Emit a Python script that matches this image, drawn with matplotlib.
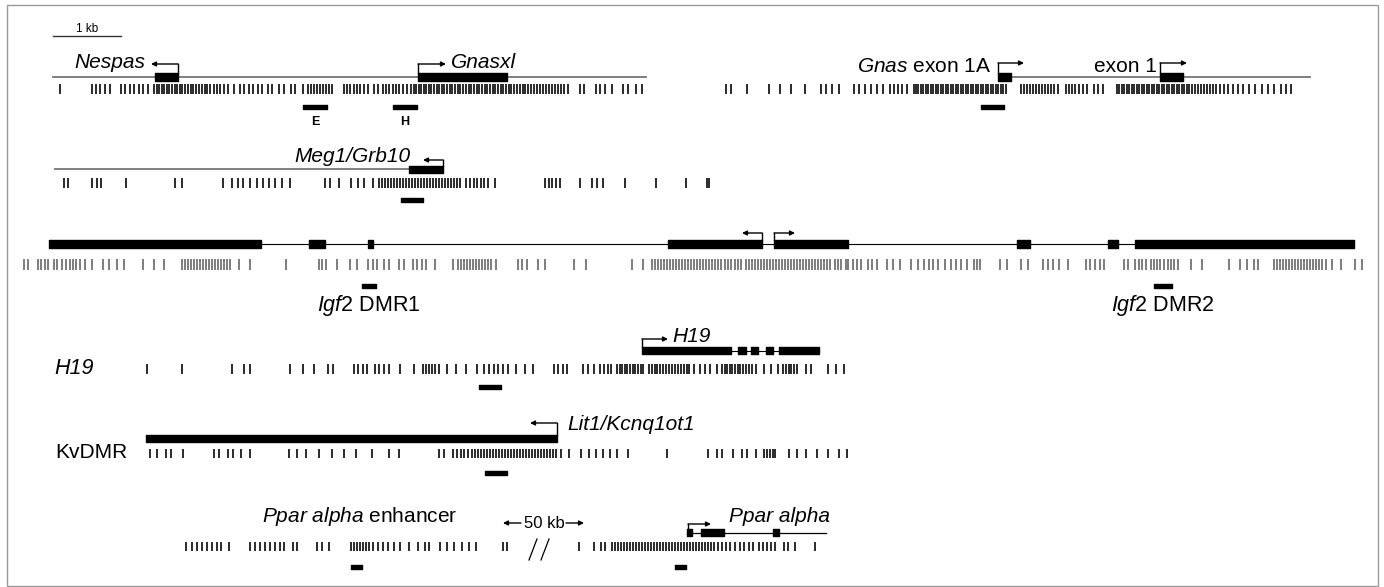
import matplotlib.pyplot as plt
from matplotlib.patches import Rectangle

plt.rcParams['font.family'] = ['Liberation Sans', 'DejaVu Sans']
plt.rcParams['mathtext.fontset'] = 'custom'
plt.rcParams['mathtext.it'] = 'Liberation Sans:italic'
plt.rcParams['mathtext.rm'] = 'Liberation Sans'

# CpG site positions along each map (diagram units)
nespas_cpg = [60, 92, 96, 100, 105, 110, 121, 125, 130, 134, 139, 143, 148,
              154, 157, 159, 162, 164, 167, 169, 172, 175, 177, 180, 182, 185, 188, 191, 193, 196, 199,
              202, 205, 207, 210, 214, 217, 220, 224, 228,
              234, 240, 244, 249, 253, 258, 262, 268, 272, 279, 284, 291, 295, 303,
              308, 311, 314, 317, 320, 323, 326, 329, 332,
              344, 347, 350, 354, 357, 360, 364, 368,
              374, 378, 383, 386, 389, 393, 396, 399, 403, 407, 411,
              414, 416, 419, 421, 424, 426, 429, 431, 434, 437, 439, 442, 444, 447, 450, 452, 455, 458,
              460, 463, 466, 469, 471, 474, 477, 479, 482, 485, 487, 490, 493, 495, 498, 501, 503, 506,
              509, 511, 514, 517, 520, 523, 525, 528, 531, 534, 537, 540, 543, 546, 549, 552, 555, 558,
              561, 564, 568, 580, 584, 596, 600, 605, 612, 623, 628, 636, 642]
gnas_cpg = [726, 731, 747, 769, 780, 791, 805, 821, 826, 832, 839, 854, 859, 865, 871, 877, 883,
            890, 894, 898, 902, 907, 914, 916, 918, 921, 923, 926, 928, 931, 933, 936, 938, 941, 943,
            946, 948, 951, 953, 956, 958, 961, 963, 966, 968, 971, 973, 976, 978, 981, 983, 986, 988,
            991, 993, 996, 998, 1001, 1003, 1006,
            1021, 1024, 1027, 1030, 1033, 1036, 1039, 1042, 1045, 1048, 1051, 1054, 1058,
            1066, 1069, 1072, 1075, 1079, 1083, 1087, 1094, 1098, 1103,
            1117, 1119, 1122, 1124, 1127, 1129, 1132, 1134, 1137, 1139, 1142, 1144, 1147, 1149, 1152,
            1154, 1157, 1159, 1162, 1164, 1167, 1169, 1172, 1174, 1177, 1179, 1182, 1184, 1187, 1189,
            1192, 1195, 1198, 1201, 1204, 1207, 1210, 1213, 1216, 1220, 1224, 1228,
            1233, 1238, 1243, 1249, 1255, 1262, 1268, 1274, 1281, 1286, 1291]
meg1_cpg = [64, 68, 92, 97, 101, 126, 175, 182, 223, 232, 238, 243, 250, 257, 263, 269, 275, 282, 290,
            325, 330, 339, 351, 358, 364, 373,
            379, 382, 385, 388, 391, 394, 397, 400, 403, 406, 409, 412, 415, 418, 421, 424, 427, 430,
            433, 436, 439, 442, 445, 448, 451, 454, 457, 460,
            466, 470, 474, 477, 481, 484, 488, 495,
            545, 549, 552, 556, 560, 580, 592, 597, 603, 625, 656, 686, 707, 709]
igf2_cpg = [24, 28, 38, 41, 45, 48, 54, 57, 62, 66, 70, 73, 76, 80, 85, 92, 103, 109, 117, 124, 143, 154, 164,
            182, 185, 188, 191, 194, 197, 200, 203, 206, 209, 212, 215, 218, 221, 224, 227, 230,
            239, 250, 286, 319, 322, 326, 337, 350, 357, 368, 373, 377, 384,
            389, 399, 404, 413, 417, 422, 426, 435, 453,
            458, 461, 464, 467, 470, 473, 476, 479, 482, 485, 488, 491, 496,
            518, 522, 527, 538, 545, 574, 586, 632, 643,
            652, 655, 658, 661, 664, 667, 670, 673, 676, 679, 682, 685, 688, 691, 694, 697, 700, 703,
            706, 709, 712, 715, 718, 721,
            725, 728, 731, 735, 738, 741, 746, 749, 752,
            755, 758, 761, 764, 767, 770, 773, 776, 779, 782, 785, 788, 791, 794, 797, 800, 803, 806,
            809, 812, 815, 818, 821, 824, 827, 830,
            835, 838, 841, 846, 848,
            853, 857, 861, 868, 872, 877, 887, 893, 900, 911, 918, 924, 929, 933, 938, 945, 951, 956,
            961, 967, 974, 977, 980, 1000, 1007, 1021, 1028, 1043, 1048, 1053, 1059, 1068, 1086, 1090,
            1095, 1100, 1104, 1124, 1128, 1135, 1139, 1142, 1146, 1151, 1154, 1157, 1160, 1164,
            1168, 1171, 1174, 1178, 1191, 1202, 1229, 1240, 1247, 1254, 1258,
            1274, 1277, 1280, 1283, 1286, 1289, 1292, 1295, 1298, 1301, 1304, 1307, 1310,
            1313, 1316, 1319, 1322, 1326, 1332, 1341, 1355, 1362]
h19_cpg = [147, 182, 232, 244, 250, 290, 303, 314, 328, 333, 354, 358, 363, 367, 375, 379, 384, 389,
           400, 414, 423, 426, 429, 432, 435, 439, 447, 456, 466, 477, 484, 489, 494, 498, 503, 508,
           516, 525, 533, 554, 558, 563, 567, 583, 588, 594, 600, 604, 608, 611,
           617, 620, 622, 625, 627, 630, 633, 635, 638, 641, 643, 649, 652, 655, 657, 660, 663, 666,
           669, 672, 675, 678, 681, 684, 687, 689, 694, 700, 705, 710, 717, 722, 725, 727, 730, 732,
           735, 738, 740, 743, 746, 749, 752, 756, 764, 771, 778, 783, 786, 789, 791, 794, 797, 806,
           811, 828, 836, 844]
kv_cpg = [150, 157, 166, 171, 183, 214, 219, 228, 233, 241, 250, 289, 297, 306, 319, 332, 344, 356,
          372, 389, 399, 439, 444,
          453, 457, 461, 464, 468, 472, 475, 478, 481, 484, 487, 490, 493, 496, 499, 502, 505, 508,
          511, 514, 517, 520, 523, 526, 529, 532, 535, 538, 541, 544, 547, 550, 553, 556,
          561, 569, 581, 589, 596, 603, 610, 617, 628, 667, 708, 717, 722, 733, 742, 747, 756, 764,
          767, 770, 773, 775, 789, 797, 806, 817, 828, 839, 847]
ppar_cpg = [186, 192, 197, 202, 207, 212, 217, 221, 229, 250, 255, 260, 265, 270, 275, 280, 284, 293,
            297, 317, 322, 329, 351, 354, 357, 360, 363, 366, 369, 373, 378, 383, 388,
            394, 400, 409, 418, 425, 429, 440, 447, 454, 462, 469, 476, 503, 507,
            579, 594, 601, 605, 612, 615, 618, 621, 624, 627, 630, 633, 636, 639, 642, 645, 648, 651,
            654, 657, 660, 663, 666, 669, 672, 675, 678, 681, 684, 687, 690, 693, 696, 699, 702, 705,
            708, 711, 714, 718, 722, 726, 730,
            735, 740, 744, 749, 753, 759, 763, 767, 771, 775, 784, 788, 795, 815]

# exons (start, end)
nespas_exons = [(155, 178)]
gnasxl_exons = [(418, 507)]
gnas_exons = [(998, 1011), (1160, 1183)]
meg1_exons = [(409, 443)]
igf2_exons = [(49, 261), (309, 325), (368, 373), (668, 762), (774, 848),
              (1017, 1030), (1108, 1118), (1135, 1354)]
h19_exons = [(642, 731), (738, 746), (751, 758), (766, 773), (779, 819)]
lit1_exons = [(146, 557)]
ppar_exons = [(687, 692), (701, 724), (773, 779)]

# analysed amplicons (start, end)
row1_amp = [(303, 327), (393, 417), (981, 1004)]
row1_amp_labels = ['E', 'H', '']
meg1_amp = [(401, 423)]
igf2_amp = [(362, 376), (1154, 1172)]
h19_amp = [(479, 501)]
kv_amp = [(485, 507)]
ppar_amp = [(351, 362), (675, 686)]

fig = plt.figure(figsize=(13.84, 5.87), dpi=100)
ax = fig.add_axes([0, 0, 1, 1])
ax.set_xlim(0, 1384)
ax.set_ylim(587, 0)
ax.axis('off')

ax.add_patch(Rectangle((7, 5), 1371, 581, fill=False, ec='#9a9a9a', lw=1))


def cpg(xs, y0, y1, color='#111111', lw=1.25):
    ax.vlines(xs, y0, y1, color=color, lw=lw)


def exons(segs, yc, h):
    ax.broken_barh([(a, b - a) for a, b in segs], (yc - h / 2, h), color='black', zorder=3)


def amps(segs, yc):
    exons(segs, yc, 4.5)


def promoter(x, ybot, ytop, xend):
    ax.plot([x, x], [ybot, ytop], color='black', lw=1)
    ax.annotate('', xy=(xend, ytop), xytext=(x, ytop),
                arrowprops=dict(arrowstyle='-|>', color='black', lw=1,
                                mutation_scale=7, shrinkA=0, shrinkB=0))


# scale bar
ax.plot([53, 121], [36, 36], color='#333333', lw=1)
ax.text(87, 29, '1 kb', fontsize=8.5, ha='center', va='center')

# Nespas / Gnasxl and Gnas
ax.plot([53, 646], [76.5, 76.5], color='#808080', lw=1.4)
ax.plot([1005, 1310], [76.5, 76.5], color='#808080', lw=1.4)
exons(nespas_exons + gnasxl_exons + gnas_exons, 76.5, 8)
promoter(178, 72.5, 64, 151)
promoter(418, 72.5, 64, 446)
promoter(998, 72.5, 63, 1024)
promoter(1160, 72.5, 63, 1187)
ax.text(145, 63, 'Nespas', fontsize=15, style='italic', ha='right', va='center')
ax.text(451, 63, 'Gnasxl', fontsize=15, style='italic', ha='left', va='center')
ax.text(857, 67, r'$\mathit{Gnas}$ exon 1A', fontsize=15, ha='left', va='center')
ax.text(1094, 67, 'exon 1', fontsize=15, ha='left', va='center')
cpg(nespas_cpg + gnas_cpg, 84, 94)
amps(row1_amp, 107)
for (a, b), lab in zip(row1_amp, row1_amp_labels):
    ax.text((a + b) / 2, 122, lab, fontsize=9, fontweight='bold', ha='center', va='center')

# Meg1/Grb10
ax.plot([55, 409], [168.5, 168.5], color='#808080', lw=1.4)
exons(meg1_exons, 169.5, 7)
promoter(443, 166, 160, 423)
ax.text(410, 157, 'Meg1/Grb10', fontsize=15, style='italic', ha='right', va='center')
cpg(meg1_cpg, 178, 188)
amps(meg1_amp, 200)

# Igf2
ax.plot([49, 1354], [244, 244], color='black', lw=0.8)
exons(igf2_exons, 244, 8)
promoter(762, 240, 233, 742)
promoter(774, 240, 233, 795)
cpg(igf2_cpg, 259, 270, color='#5a5a5a', lw=1.1)
amps(igf2_amp, 286)
for (a, b), lab in zip(igf2_amp, ['DMR1', 'DMR2']):
    ax.text((a + b) / 2, 305, r'$\mathit{Igf2}$ ' + lab, fontsize=15.5, ha='center', va='center')

# H19
ax.plot([642, 819], [350.5, 350.5], color='black', lw=0.8)
exons(h19_exons, 350.5, 7)
promoter(642, 347, 339, 668)
ax.text(672, 337, 'H19', fontsize=15, style='italic', ha='left', va='center')
ax.text(54, 369, 'H19', fontsize=15.5, style='italic', ha='left', va='center')
cpg(h19_cpg, 364, 374)
amps(h19_amp, 387)

# KvDMR
exons(lit1_exons, 438.5, 7)
promoter(557, 435, 423, 530)
ax.text(567, 425, 'Lit1/Kcnq1ot1', fontsize=15, style='italic', ha='left', va='center')
ax.text(55, 453, 'KvDMR', fontsize=15, ha='left', va='center')
cpg(kv_cpg, 449, 458)
amps(kv_amp, 473)

# Ppar alpha
ax.plot([687, 826], [532.5, 532.5], color='black', lw=0.9)
exons(ppar_exons, 532.5, 7)
promoter(688, 529, 524, 711)
ax.text(262, 516, r'$\mathit{Ppar\ alpha}$ enhancer', fontsize=15, ha='left', va='center')
ax.text(729, 516, 'Ppar alpha', fontsize=15, style='italic', ha='left', va='center')
ax.text(544, 523, '50 kb', fontsize=12, ha='center', va='center')
ax.annotate('', xy=(503, 523), xytext=(521, 523),
            arrowprops=dict(arrowstyle='-|>', color='black', lw=1, mutation_scale=7, shrinkA=0, shrinkB=0))
ax.annotate('', xy=(584, 523), xytext=(566, 523),
            arrowprops=dict(arrowstyle='-|>', color='black', lw=1, mutation_scale=7, shrinkA=0, shrinkB=0))
ax.plot([529, 537], [560, 539], color='black', lw=0.9)
ax.plot([541, 549], [560, 539], color='black', lw=0.9)
cpg(ppar_cpg, 542, 551)
amps(ppar_amp, 567)

fig.savefig('out.png', dpi=100)
